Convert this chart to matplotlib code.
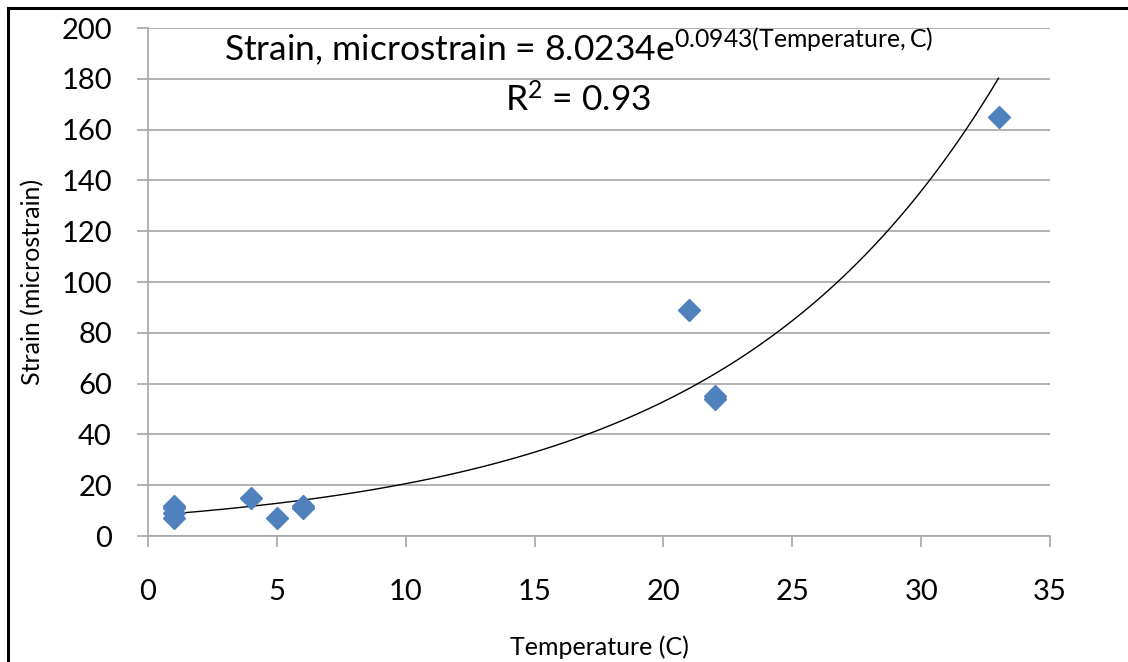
import numpy as np
import matplotlib
matplotlib.use("Agg")
import matplotlib.pyplot as plt
from matplotlib.lines import Line2D

plt.rcParams["font.family"] = ["Lato", "DejaVu Sans"]
plt.rcParams["mathtext.fontset"] = "custom"
plt.rcParams["mathtext.rm"] = "Lato"
plt.rcParams["mathtext.it"] = "Lato"

# measured temperature vs strain
temps = [1, 1, 1, 1, 4, 5, 6, 6, 21, 22, 22, 33]
strains = [12, 11, 9, 7, 15, 7, 12, 11, 89, 55, 54, 165]

# exponential trendline coefficients
coef_a = 8.0234
coef_b = 0.0943
r_squared = 0.93

fig = plt.figure(figsize=(11.28, 6.62), dpi=100)
ax = fig.add_axes([0.1312, 0.1903, 0.7997, 0.7674])

grid_color = "#a6a6a6"
ax.set_xlim(0, 35)
ax.set_ylim(0, 200)
ax.set_xticks(range(0, 36, 5))
ax.set_yticks(range(0, 201, 20))
ax.grid(axis="y", color=grid_color, linewidth=1.2)
ax.set_axisbelow(True)
for side in ["top", "right"]:
    ax.spines[side].set_visible(False)
for side in ["left", "bottom"]:
    ax.spines[side].set_color(grid_color)
    ax.spines[side].set_linewidth(1.2)
ax.tick_params(axis="both", colors=grid_color, labelcolor="black",
               labelsize=21, length=8, width=1.2)
ax.tick_params(axis="x", pad=23)
ax.tick_params(axis="y", pad=18)

# trendline
xs = np.linspace(min(temps), max(temps), 300)
ax.plot(xs, coef_a * np.exp(coef_b * xs), color="black", linewidth=1.0)

ax.plot(temps, strains, linestyle="none", marker="D", markersize=11,
        color="#4f81bd", clip_on=False, zorder=3)

ax.set_xlabel("Temperature (C)", fontsize=18, labelpad=22)
ax.set_ylabel("Strain (microstrain)", fontsize=18, labelpad=12)

ax.text(0.477, 0.963,
        "Strain, microstrain = %.4fe$^{%.4f(\\mathrm{Temperature, C})}$" % (coef_a, coef_b),
        transform=ax.transAxes, ha="center", va="center", fontsize=25.5)
ax.text(0.477, 0.858, "R$^{2}$ = %.2f" % r_squared,
        transform=ax.transAxes, ha="center", va="center", fontsize=25.5)

# outer frame on the left and top
fig.add_artist(Line2D([0.0075, 0.0075], [0, 0.988], color="black", linewidth=2.2,
                      transform=fig.transFigure))
fig.add_artist(Line2D([0.0075, 1.0], [0.988, 0.988], color="black", linewidth=2.2,
                      transform=fig.transFigure))

fig.savefig("out.png", dpi=100, facecolor="white")
